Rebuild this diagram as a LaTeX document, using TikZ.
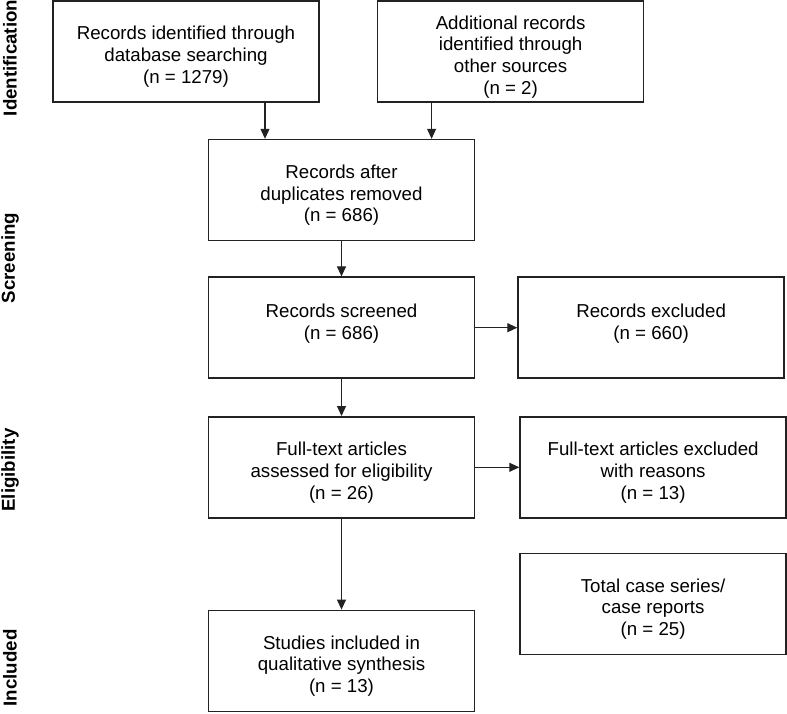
\documentclass[tikz,border=0pt]{standalone}
\usepackage{fontspec}
\setsansfont{Liberation Sans}
\usepackage{tikz}
\usetikzlibrary{arrows.meta, positioning, calc}
\definecolor{boxStroke}{HTML}{222222}
\definecolor{boxFill}{HTML}{FFFFFF}
\definecolor{arrowStroke}{HTML}{222222}
\newcommand{\toppad}{\rule{0pt}{24pt}}
\newcommand{\botpad}{\rule[-12pt]{0pt}{1pt}}

\begin{document}
\begin{tikzpicture}[
    x=1pt, y=-1pt,
    font=\sffamily\fontsize{18.7}{21.7}\selectfont,
    box/.style={
        rectangle,
        draw=boxStroke, fill=boxFill,
        line width=1.6pt,
        align=center, minimum width=266pt,
        minimum height=101pt, inner sep=4pt
    },
    phase/.style={
        rotate=90, font=\sffamily\bfseries\fontsize{18.7}{21.7}\selectfont,
        inner sep=0pt
    },
    arrow/.style={
        -{Triangle[length=10pt,width=9pt]},
        draw=arrowStroke, line width=1.1pt
    }
]
    \useasboundingbox (0,0) rectangle (787,713);

    \node[box] (dbrec) at (186,51.5) {\toppad Records identified through\\database searching\\(n = 1279)};
    \node[box, right=57pt of dbrec] (otherrec) {\toppad Additional records\\identified through\\other sources\\(n = 2)};
    \node[box, below=36pt of dbrec, xshift=155.5pt] (dedup) {\toppad Records after\\duplicates removed\\(n = 686)};
    \node[box, below=35pt of dedup] (screened) {Records screened\\(n = 686)\botpad};
    \node[box, right=42pt of screened] (excluded) {Records excluded\\(n = 660)\botpad};
    \node[box, below=37pt of screened] (fulltext) {\toppad Full-text articles\\assessed for eligibility\\(n = 26)};
    \node[box, right=44pt of fulltext] (ftexcl) {\toppad Full-text articles excluded\\with reasons\\(n = 13)};
    \node[box, below=91pt of fulltext] (included) {\toppad Studies included in\\qualitative synthesis\\(n = 13)};
    \node[box, right=44pt of included, yshift=57pt] (cases) {\toppad Total case series/\\case reports\\(n = 25)};

    \node[phase] (lblident) at (10,58) {Identification};
    \node[phase] (lblscreen) at (10,258) {Screening};
    \node[phase] (lblelig) at (10,470) {Eligibility};
    \node[phase] (lblincl) at (10,668) {Included};

    \draw[arrow] ([xshift=79pt]dbrec.south) -- ([xshift=79pt]dbrec.south |- dedup.north);
    \draw[arrow] ([xshift=-79pt]otherrec.south) -- ([xshift=-79pt]otherrec.south |- dedup.north);
    \draw[arrow] (dedup) -- (screened);
    \draw[arrow] (screened) -- (excluded);
    \draw[arrow] (screened) -- (fulltext);
    \draw[arrow] (fulltext) -- (ftexcl);
    \draw[arrow] (fulltext) -- (included);
\end{tikzpicture}
\end{document}
